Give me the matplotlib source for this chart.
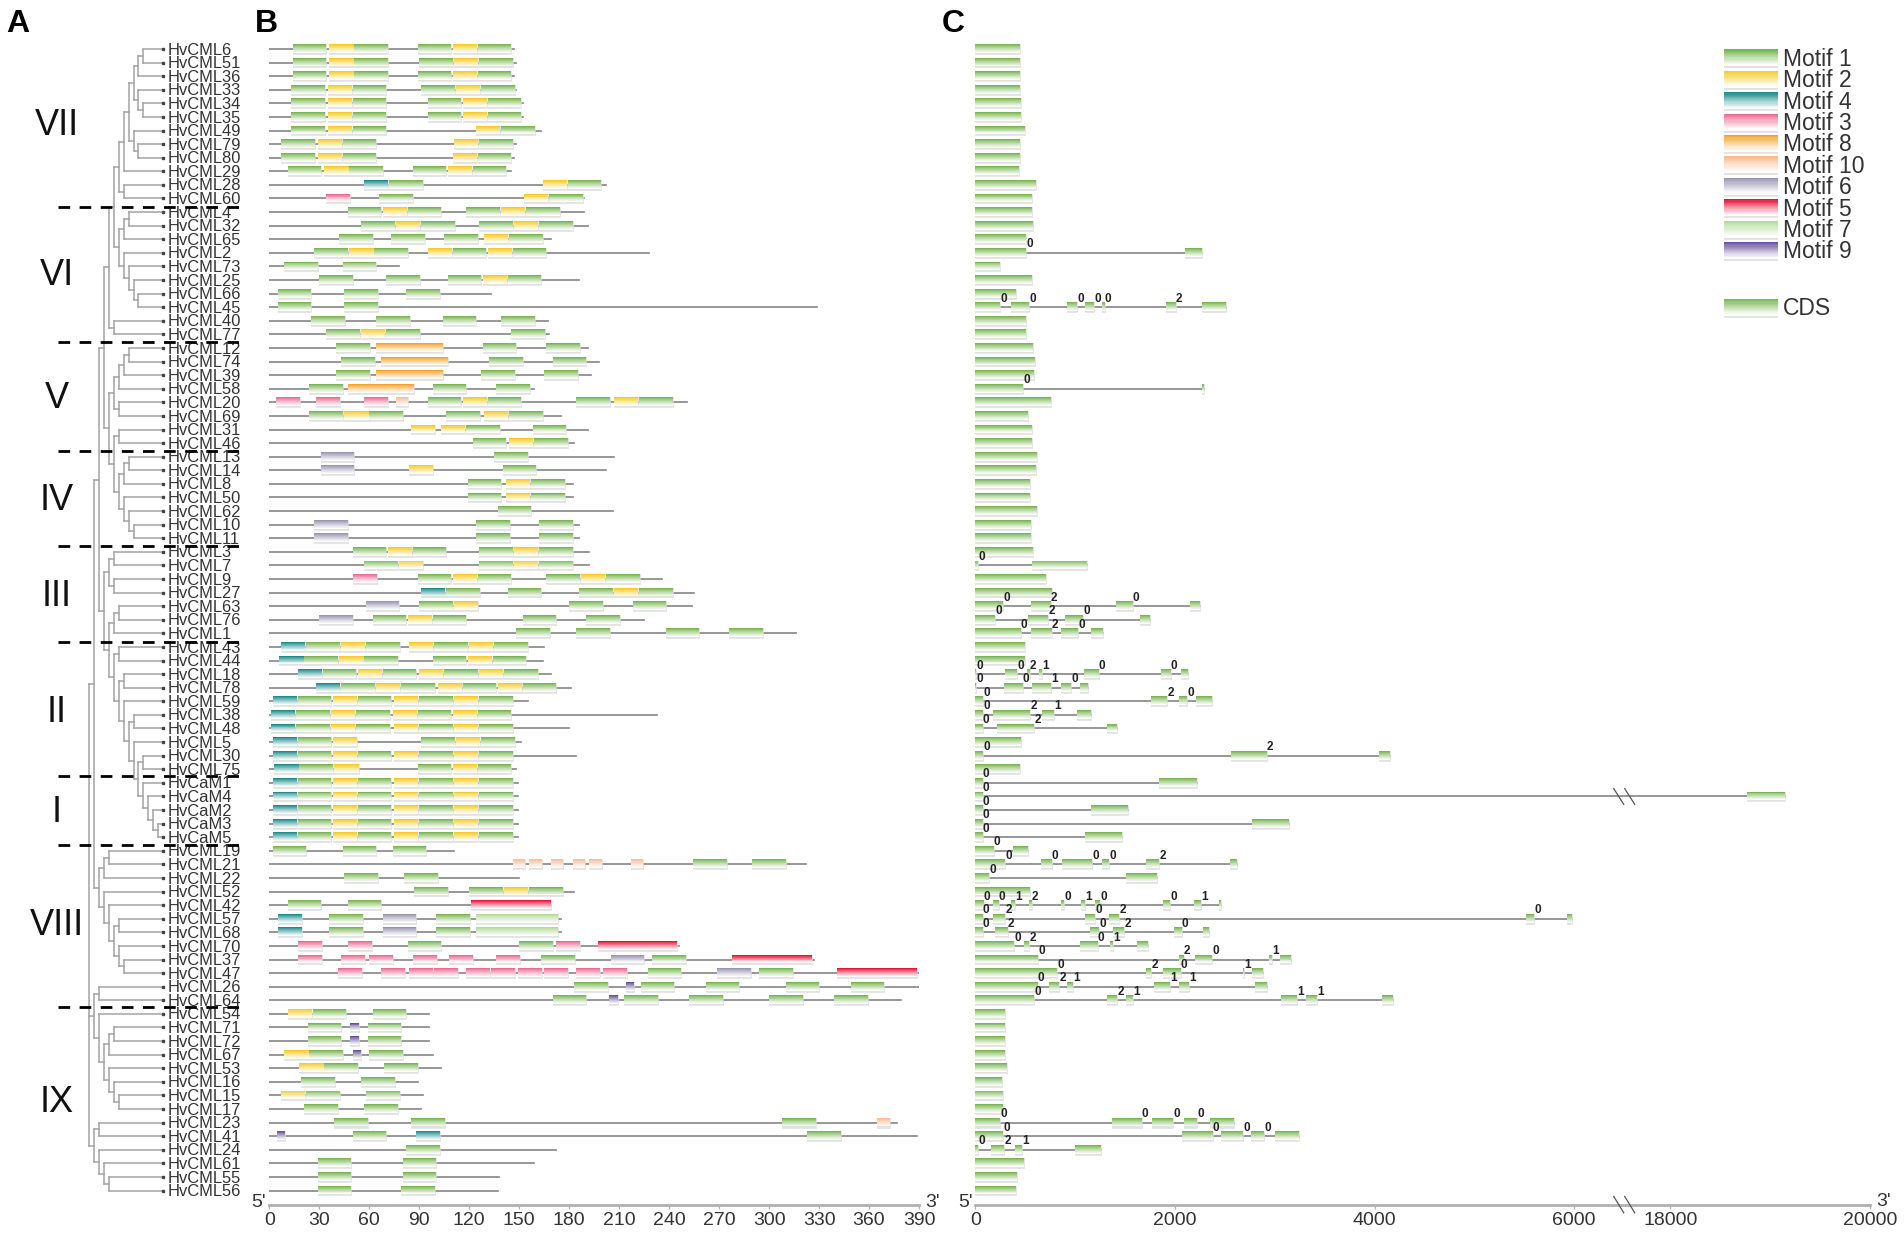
"""
Gene structure figure: phylogenetic tree, conserved motifs and exon layout
"""
import numpy as np
import matplotlib
matplotlib.use('Agg')  # Use non-interactive backend
import matplotlib.pyplot as plt
from matplotlib.colors import to_rgb

plt.rcParams['font.family'] = ['Liberation Sans', 'DejaVu Sans']

# Gene order, top to bottom
gene_names = [
    'HvCML6', 'HvCML51', 'HvCML36', 'HvCML33', 'HvCML34', 'HvCML35', 'HvCML49', 'HvCML79', 'HvCML80',
    'HvCML29', 'HvCML28', 'HvCML60',
    'HvCML4', 'HvCML32', 'HvCML65', 'HvCML2', 'HvCML73', 'HvCML25', 'HvCML66', 'HvCML45', 'HvCML40', 'HvCML77',
    'HvCML12', 'HvCML74', 'HvCML39', 'HvCML58', 'HvCML20', 'HvCML69', 'HvCML31', 'HvCML46',
    'HvCML13', 'HvCML14', 'HvCML8', 'HvCML50', 'HvCML62', 'HvCML10', 'HvCML11',
    'HvCML3', 'HvCML7', 'HvCML9', 'HvCML27', 'HvCML63', 'HvCML76', 'HvCML1',
    'HvCML43', 'HvCML44', 'HvCML18', 'HvCML78', 'HvCML59', 'HvCML38', 'HvCML48', 'HvCML5', 'HvCML30', 'HvCML75',
    'HvCaM1', 'HvCaM4', 'HvCaM2', 'HvCaM3', 'HvCaM5',
    'HvCML19', 'HvCML21', 'HvCML22', 'HvCML52', 'HvCML42', 'HvCML57', 'HvCML68', 'HvCML70', 'HvCML37', 'HvCML47',
    'HvCML26', 'HvCML64',
    'HvCML54', 'HvCML71', 'HvCML72', 'HvCML67', 'HvCML53', 'HvCML16', 'HvCML15', 'HvCML17', 'HvCML23', 'HvCML41',
    'HvCML24', 'HvCML61', 'HvCML55', 'HvCML56',
]

protein_lengths = [
    147, 148, 147, 148, 152, 152, 163, 148, 147, 145, 202, 189,
    189, 191, 169, 228, 78, 186, 133, 329, 167, 168,
    191, 198, 193, 159, 251, 175, 191, 183,
    207, 202, 182, 182, 206, 186, 186,
    192, 192, 236, 255, 254, 225, 316,
    165, 164, 169, 181, 155, 233, 180, 151, 184, 148,
    149, 149, 149, 149, 149,
    111, 322, 150, 183, 169, 175, 175, 246, 327, 390, 390, 379,
    96, 96, 96, 98, 103, 89, 92, 91, 377, 389, 172, 159, 138, 137,
]

# Tree as nested (node x, child, child, ...), leaves are gene names
clade_vii = (119,
             (124,
              (129,
               (134, (138.3, (143.3, 'HvCML6', 'HvCML51'), 'HvCML36'),
                (138.3, 'HvCML33', (143.3, 'HvCML34', 'HvCML35'))),
               (134, 'HvCML49', (138.3, 'HvCML79', 'HvCML80'))),
              'HvCML29'),
             (124, 'HvCML28', 'HvCML60'))
clade_vi = (119,
            (124, (129, 'HvCML4', 'HvCML32'), 'HvCML65'),
            (124, 'HvCML2',
             (129, 'HvCML73', (134, 'HvCML25', (138.3, 'HvCML66', 'HvCML45')))))
clade_v = (114,
           (119, (124, (129, 'HvCML12', 'HvCML74'), 'HvCML39'), 'HvCML58'),
           (119, 'HvCML20', 'HvCML69'))
clade_iv = (114,
            (119, 'HvCML31', 'HvCML46'),
            (119,
             (124, (129, 'HvCML13', 'HvCML14'), 'HvCML8'),
             (124, 'HvCML50', (129, 'HvCML62', (134, 'HvCML10', 'HvCML11')))))
clade_cam = (143.3, 'HvCaM1',
             (148.3, 'HvCaM4', (153.3, 'HvCaM2', (157.7, 'HvCaM3', 'HvCaM5'))))
clade_ii = (114,
            (119, 'HvCML43', 'HvCML44'),
            (119, (124, 'HvCML18', 'HvCML78'),
             (124, 'HvCML59',
              (129, (134, 'HvCML38', 'HvCML48'),
               (134, 'HvCML5', (138.3, (143.3, 'HvCML30', 'HvCML75'), clade_cam))))))
clade_iii = (104,
             (109, (114, 'HvCML3', 'HvCML7'), (114, 'HvCML9', 'HvCML27')),
             (109, (114, (119, 'HvCML63', 'HvCML76'), 'HvCML1'), clade_ii))
clade_viii = (99,
              (104, (109, 'HvCML19', 'HvCML21'), 'HvCML22'),
              (104, 'HvCML52',
               (109, 'HvCML42',
                (114, (119, 'HvCML57', 'HvCML68'),
                 (119, 'HvCML70', (124, 'HvCML37', 'HvCML47'))))))
clade_ix = (94,
            (99, 'HvCML26', 'HvCML64'),
            (99, 'HvCML54',
             (104, (109, (114, 'HvCML71', 'HvCML72'), 'HvCML67'),
              (109, 'HvCML53', (114, 'HvCML16', (119, 'HvCML15', 'HvCML17'))))))
clade_rest = (94,
              (99, 'HvCML23', 'HvCML41'),
              (99, 'HvCML24', (104, 'HvCML61', (109, 'HvCML55', 'HvCML56'))))
tree = (89,
        (94,
         (99,
          (104,
           (109, (114, clade_vii, clade_vi), (114, 'HvCML40', 'HvCML77')),
           (109, clade_v, clade_iv)),
          clade_iii),
         clade_viii),
        clade_ix,
        clade_rest)

# Motif hits per gene as (motif number, start in aa)
cam_hits = [(4, 2), (1, 17), (2, 38), (1, 53), (2, 75), (1, 90), (2, 111), (1, 126)]
motif_hits = [
    [(1, 14), (2, 36), (1, 51), (1, 89), (2, 110), (1, 125)],
    [(1, 14), (2, 36), (1, 51), (1, 90), (2, 111), (1, 126)],
    [(1, 14), (2, 36), (1, 51), (1, 89), (2, 110), (1, 125)],
    [(1, 13), (2, 35), (1, 50), (1, 91), (2, 112), (1, 127)],
    [(1, 13), (2, 35), (1, 50), (1, 95), (2, 116), (1, 131)],
    [(1, 13), (2, 35), (1, 50), (1, 95), (2, 116), (1, 131)],
    [(1, 13), (2, 35), (1, 50), (2, 124), (1, 139)],
    [(1, 7), (2, 29), (1, 44), (2, 111), (1, 126)],
    [(1, 7), (2, 29), (1, 44), (2, 110), (1, 125)],
    [(1, 11), (2, 33), (1, 48), (1, 86), (2, 107), (1, 122)],
    [(4, 57), (1, 72), (2, 164), (1, 179)],
    [(3, 34), (1, 66), (2, 153), (1, 168)],
    [(1, 47), (2, 68), (1, 83), (1, 118), (2, 139), (1, 154)],
    [(1, 55), (2, 76), (1, 91), (1, 126), (2, 147), (1, 162)],
    [(1, 42), (1, 73), (1, 105), (2, 129), (1, 144)],
    [(1, 27), (2, 48), (1, 63), (2, 95), (1, 110), (2, 131), (1, 146)],
    [(1, 9), (1, 44)],
    [(1, 30), (1, 70), (1, 107), (2, 128), (1, 143)],
    [(1, 5), (1, 45), (1, 82)],
    [(1, 5), (1, 45)],
    [(1, 25), (1, 64), (1, 104), (1, 139)],
    [(1, 34), (2, 55), (1, 70), (1, 145)],
    [(1, 40), (8, 64), (1, 128), (1, 166)],
    [(1, 43), (8, 67), (1, 132), (1, 170)],
    [(1, 40), (8, 64), (1, 127), (1, 165)],
    [(1, 24), (8, 47), (1, 98), (1, 136)],
    [(3, 4), (3, 28), (3, 57), (10, 76), (1, 95), (2, 116), (1, 131), (1, 184), (2, 207), (1, 222)],
    [(1, 24), (2, 45), (1, 60), (1, 106), (2, 129), (1, 144)],
    [(2, 85), (2, 103), (1, 118), (1, 158)],
    [(1, 122), (2, 144), (1, 159)],
    [(6, 31), (1, 135)],
    [(6, 31), (2, 84), (1, 140)],
    [(1, 119), (2, 142), (1, 157)],
    [(1, 119), (2, 142), (1, 157)],
    [(1, 137)],
    [(6, 27), (1, 124), (1, 162)],
    [(6, 27), (1, 124), (1, 162)],
    [(1, 50), (2, 71), (1, 86), (1, 126), (2, 147), (1, 162)],
    [(1, 57), (2, 78), (1, 126), (2, 147), (1, 162)],
    [(3, 50), (1, 89), (2, 110), (1, 125), (1, 166), (2, 187), (1, 202)],
    [(4, 91), (1, 106), (1, 143), (1, 186), (2, 207), (1, 222)],
    [(6, 58), (1, 90), (2, 111), (1, 180), (1, 218)],
    [(6, 30), (1, 62), (2, 83), (1, 98), (1, 152), (1, 190)],
    [(1, 148), (1, 184), (1, 238), (1, 276)],
    [(4, 7), (1, 22), (2, 43), (1, 58), (2, 84), (1, 99), (2, 120), (1, 135)],
    [(4, 6), (1, 21), (2, 42), (1, 57), (1, 98), (2, 119), (1, 134)],
    [(4, 17), (1, 32), (2, 53), (1, 68), (2, 90), (1, 105), (2, 126), (1, 141)],
    [(4, 28), (1, 43), (2, 64), (1, 79), (2, 101), (1, 116), (2, 137), (1, 152)],
    [(4, 2), (1, 17), (2, 38), (1, 53), (2, 75), (1, 90), (2, 111), (1, 126)],
    [(4, 1), (1, 16), (2, 37), (1, 52), (2, 74), (1, 89), (2, 110), (1, 125)],
    [(4, 1), (1, 16), (2, 37), (1, 52), (2, 75), (1, 90), (2, 111), (1, 126)],
    [(4, 2), (1, 17), (2, 38), (1, 91), (2, 112), (1, 127)],
    [(4, 2), (1, 17), (2, 38), (1, 53), (2, 75), (1, 90), (2, 111), (1, 126)],
    [(4, 3), (1, 18), (2, 39), (1, 89), (2, 110), (1, 125)],
    cam_hits, cam_hits, cam_hits, cam_hits, cam_hits,
    [(1, 2), (1, 44), (1, 74)],
    [(10, 146), (10, 156), (10, 169), (10, 182), (10, 192), (10, 217), (1, 254.5), (1, 290)],
    [(1, 45), (1, 81)],
    [(1, 87), (1, 120), (2, 141), (1, 156)],
    [(1, 11), (1, 47), (5, 121)],
    [(4, 5), (1, 36), (6, 68), (1, 100), (7, 124)],
    [(4, 5), (1, 36), (6, 68), (1, 100), (7, 124)],
    [(3, 17), (3, 47), (1, 83), (1, 150), (3, 172), (5, 197)],
    [(3, 17), (3, 43), (3, 60), (3, 86), (3, 108), (3, 136), (1, 163), (6, 205), (1, 230), (5, 278)],
    [(3, 41), (3, 67), (3, 84), (3, 99), (3, 118), (3, 133), (3, 149), (3, 165), (3, 184), (3, 200),
     (1, 227), (6, 269), (1, 294), (5, 341)],
    [(1, 183), (9, 214), (1, 223), (1, 262), (1, 310), (1, 349)],
    [(1, 170), (9, 204), (1, 213), (1, 252), (1, 300), (1, 339)],
    [(2, 11), (1, 26), (1, 62)],
    [(1, 23), (9, 48.5), (1, 59)],
    [(1, 23), (9, 48.5), (1, 59)],
    [(2, 9), (1, 24), (9, 50), (1, 60)],
    [(2, 18), (1, 33), (1, 69)],
    [(1, 19), (1, 55)],
    [(2, 7), (1, 22), (1, 58)],
    [(1, 21), (1, 57)],
    [(1, 39), (1, 85), (1, 308), (10, 365)],
    [(9, 4.5), (1, 50), (4, 88), (1, 323)],
    [(1, 82)],
    [(1, 29), (1, 80)],
    [(1, 29), (1, 80)],
    [(1, 29), (1, 79)],
]

motif_widths = {1: 20.2, 2: 14.5, 3: 14.5, 4: 14.5, 5: 48, 6: 20, 7: 49.5, 8: 40, 9: 5, 10: 7.4}
motif_colors = {1: '#79b653', 2: '#f5cb24', 3: '#ec6a93', 4: '#1c8c8c', 5: '#e5143a', 6: '#9a96b2',
                7: '#b3db97', 8: '#f4a42c', 9: '#67529c', 10: '#f8bd93'}
legend_order = [1, 2, 4, 3, 8, 10, 6, 5, 7, 9]

# Exons per gene as (start, end) in bp, and the intron phase after each exon
exon_spans = [
    [(0, 445)], [(0, 445)], [(0, 445)], [(0, 445)], [(0, 457)], [(0, 457)], [(0, 494)], [(0, 445)], [(0, 445)],
    [(0, 438)], [(0, 611)], [(0, 568)],
    [(0, 568)], [(0, 574)], [(0, 507)], [(0, 507), (2096, 2275)], [(0, 241)], [(0, 562)], [(0, 408)],
    [(0, 248), (353, 537), (920, 1018), (1097, 1190), (1270, 1294), (1910, 2008), (2267, 2507)],
    [(0, 507)], [(0, 507)],
    [(0, 574)], [(0, 598)], [(0, 586)], [(0, 476), (2270, 2286)], [(0, 759)], [(0, 530)], [(0, 568)], [(0, 568)],
    [(0, 617)], [(0, 605)], [(0, 545)], [(0, 545)], [(0, 617)], [(0, 561)], [(0, 561)],
    [(0, 573)], [(0, 28), (563, 1114)], [(0, 710)], [(0, 767)],
    [(0, 279), (553, 753), (1404, 1575), (2149, 2253)],
    [(0, 199), (530, 730), (900, 1077), (1645, 1749)],
    [(0, 453), (560, 763), (853, 1027), (1154, 1274)],
    [(0, 500)], [(0, 496)],
    [(0, 5), (299, 419), (513, 543), (633, 663), (1084, 1234), (1857, 1957), (2063, 2130)],
    [(0, 5), (289, 473), (570, 753), (853, 957), (1050, 1127)],
    [(0, 75), (1762, 1919), (2039, 2123), (2213, 2367)],
    [(0, 75), (179, 550), (666, 783), (1013, 1157)],
    [(0, 72), (212, 586), (1314, 1414)],
    [(0, 453)],
    [(0, 75), (2557, 2919), (4040, 4155)],
    [(0, 446)],
    [(0, 73), (1838, 2217)],
    [(0, 73), (18763, 19145)],
    [(0, 73), (1160, 1527)],
    [(0, 73), (2775, 3143)],
    [(0, 73), (1102, 1470)],
    [(0, 183), (372, 530)],
    [(0, 299), (659, 762), (872, 1171), (1268, 1341), (1713, 1841), (2555, 2622)],
    [(0, 140), (1506, 1823)],
    [(0, 549)],
    [(0, 82), (172, 232), (352, 392), (533, 563), (860, 887), (1054, 1097), (1197, 1251), (1875, 1949),
     (2190, 2263), (2444, 2465)],
    [(0, 72), (172, 296), (1097, 1197), (1338, 1441), (5517, 5597), (5927, 5982)],
    [(0, 72), (195, 322), (1144, 1238), (1381, 1488), (1992, 2066), (2283, 2340)],
    [(0, 390), (489, 536), (1050, 1224), (1352, 1376), (1622, 1729)],
    [(0, 630), (2042, 2086), (2196, 2373), (2945, 2970), (3055, 3158)],
    [(0, 817), (1712, 1762), (1876, 2056), (2680, 2690), (2774, 2884)],
    [(0, 623), (740, 837), (917, 981), (1785, 1949), (2042, 2139), (2805, 2927)],
    [(0, 586), (1321, 1421), (1511, 1581), (3067, 3226), (3317, 3421), (4073, 4189)],
    [(0, 293)], [(0, 293)], [(0, 293)], [(0, 299)], [(0, 317)], [(0, 268)], [(0, 280)], [(0, 274)],
    [(0, 250), (1372, 1665), (1768, 1982), (2091, 2220), (2348, 2592)],
    [(0, 280), (2073, 2378), (2463, 2683), (2762, 2896), (3006, 3244)],
    [(0, 30), (152, 287), (396, 470), (994, 1262)],
    [(0, 482)], [(0, 415)], [(0, 409)],
]

exon_phases = [
    [], [], [], [], [], [], [], [], [], [], [], [],
    [], [], [], [0], [], [], [], [0, 0, 0, 0, 0, 2], [], [],
    [], [], [], [0], [], [], [], [],
    [], [], [], [], [], [], [],
    [], [0], [], [], [0, 2, 0], [0, 2, 0], [0, 2, 0],
    [], [], [0, 0, 2, 1, 0, 0], [0, 0, 1, 0], [0, 2, 0], [0, 2, 1], [0, 2], [], [0, 2], [],
    [0], [0], [0], [0], [0],
    [0], [0, 0, 0, 0, 2], [0], [], [0, 0, 1, 2, 0, 1, 0, 0, 1], [0, 2, 0, 2, 0], [0, 2, 0, 2, 0],
    [0, 2, 0, 1], [0, 2, 0, 1], [0, 2, 0, 1], [0, 2, 1, 1, 1], [0, 2, 1, 1, 1],
    [], [], [], [], [], [], [], [], [0, 0, 0, 0], [0, 0, 0, 0], [0, 2, 1], [], [], [],
]

clade_labels = ['VII', 'VI', 'V', 'IV', 'III', 'II', 'I', 'VIII', 'IX']
clade_label_rows = [5.6, 16.7, 25.7, 33.2, 40.3, 48.8, 56.2, 64.5, 77.5]
clade_dividers = [11.6, 21.54, 29.56, 36.55, 43.6, 53.5, 58.55, 70.5]

aa_ticks = list(range(0, 391, 30))
bp_ticks = [0, 2000, 4000, 6000, 18000, 20000]

# Picture layout, in pixels
WIDTH, HEIGHT = 1904, 1233
ROW_TOP, ROW_PITCH = 49.0, 13.59
AXIS_ROW = 85.03
BOX_HEIGHT = 0.72
LEAF_X = 163.3
LINE_GREY = '#858585'
AXIS_GREY = '#b0b0b0'
TEXT_DARK = '#333333'
CUT_START, CUT_SHIFT = 6500, 11033


def px_axes(fig, x0, x1, y0=0, y1=HEIGHT):
    """Axes covering a pixel box of the figure"""
    ax = fig.add_axes([x0 / WIDTH, 1 - y1 / HEIGHT, (x1 - x0) / WIDTH, (y1 - y0) / HEIGHT])
    ax.patch.set_alpha(0)
    return ax


def set_rows(ax):
    ax.set_ylim((HEIGHT - ROW_TOP) / ROW_PITCH, -ROW_TOP / ROW_PITCH)


def draw_boxes(ax, rows, lefts, widths, color, height=BOX_HEIGHT, strips=10):
    """Boxes that fade from the colour at the top to white, with a grey rim below"""
    rows = np.asarray(rows, dtype=float)
    base = np.array(to_rgb(color))
    step = height / strips
    for i in range(strips):
        fade = min(1.0, i / ((strips - 1) * 0.9))
        shade = base + (1 - base) * fade ** 0.9
        if i == strips - 1:
            shade = '#e2e2e2'
        top = rows - height / 2 + i * step
        ax.barh(top + step / 2, widths, left=lefts, height=step * 1.05, color=shade,
                linewidth=0, antialiased=False, zorder=3)
    ax.barh(rows, widths, left=lefts, height=height, fill=False, edgecolor='#dcdcdc',
            linewidth=0.5, zorder=2.5)


def draw_node(ax, node, gene_row):
    if isinstance(node, str):
        return LEAF_X, gene_row[node]
    x, *children = node
    points = [draw_node(ax, child, gene_row) for child in children]
    ys = [p[1] for p in points]
    ax.plot([x, x], [min(ys), max(ys)], color='#a3a3a3', lw=1.1, solid_capstyle='projecting', zorder=1)
    for cx, cy in points:
        ax.plot([x, cx], [cy, cy], color='#a3a3a3', lw=1.1, zorder=1)
    return x, (ys[0] + ys[-1]) / 2


def style_axis(ax, ticks):
    for side in ('left', 'right', 'top'):
        ax.spines[side].set_visible(False)
    ax.yaxis.set_visible(False)
    ax.spines['bottom'].set_position(('data', AXIS_ROW))
    ax.spines['bottom'].set_color(AXIS_GREY)
    ax.spines['bottom'].set_linewidth(2.0)
    ax.set_xticks(ticks)
    ax.set_xticklabels([str(t) for t in ticks])
    ax.tick_params(axis='x', length=3, width=0.9, color=AXIS_GREY, labelsize=14, labelcolor=TEXT_DARK, pad=2.5)


def bp_forward(bp):
    bp = np.asarray(bp, dtype=float)
    return np.where(bp < CUT_START, bp, np.where(bp < CUT_START + CUT_SHIFT, CUT_START, bp - CUT_SHIFT))


def bp_inverse(pos):
    pos = np.asarray(pos, dtype=float)
    return np.where(pos < CUT_START, pos, pos + CUT_SHIFT)


def draw_break(ax, row, half_height):
    for centre in (6448, 6558 + CUT_SHIFT):
        ax.plot([centre - 50, centre + 50], [row - half_height, row + half_height],
                color='#555555', lw=0.9, zorder=4)


fig = plt.figure(figsize=(WIDTH / 100, HEIGHT / 100), dpi=100)
gene_row = {name: i for i, name in enumerate(gene_names)}

# Panel A: tree, names, clade labels
ax_tree = px_axes(fig, 0, 269)
ax_tree.set_xlim(0, 269)
set_rows(ax_tree)
ax_tree.axis('off')
draw_node(ax_tree, tree, gene_row)
ax_tree.plot([LEAF_X] * len(gene_names), range(len(gene_names)), ls='none', marker='s', ms=2, color='#444444')
for name, row in gene_row.items():
    ax_tree.text(168, row + 0.08, name, fontsize=11.9, color=TEXT_DARK, va='center', ha='left')
for label, row in zip(clade_labels, clade_label_rows):
    ax_tree.text(56.5, row, label, fontsize=26, color='#111111', va='center', ha='center')
for row in clade_dividers:
    ax_tree.plot([58, 245], [row, row], color='black', lw=2.0, dashes=(4.2, 3.4), zorder=5)

# Panel B: motifs
ax_motif = px_axes(fig, 269.4, 919)
ax_motif.set_xlim(0, 390)
set_rows(ax_motif)
style_axis(ax_motif, aa_ticks)
for row, length in enumerate(protein_lengths):
    ax_motif.plot([0, length], [row, row], color=LINE_GREY, lw=1.2, zorder=1)
for motif, color in motif_colors.items():
    hits = [(row, start) for row, gene_hits in enumerate(motif_hits) for m, start in gene_hits if m == motif]
    draw_boxes(ax_motif, [h[0] for h in hits], [h[1] for h in hits], motif_widths[motif], color)
ax_motif.text(-2, 84.9, "5'", fontsize=14, color=TEXT_DARK, ha='right', va='center')
ax_motif.text(394, 84.9, "3'", fontsize=14, color=TEXT_DARK, ha='left', va='center')

# Panel C: exons, with the long intron gap cut out of the scale
ax_exon = px_axes(fig, 975.5, 1870)
ax_exon.set_xscale('function', functions=(bp_forward, bp_inverse))
ax_exon.set_xlim(0, 20000)
set_rows(ax_exon)
style_axis(ax_exon, bp_ticks)
exon_rows, exon_lefts, exon_widths = [], [], []
for row, (spans, phases) in enumerate(zip(exon_spans, exon_phases)):
    if len(spans) > 1:
        ax_exon.plot([spans[0][0], spans[-1][1]], [row, row], color=LINE_GREY, lw=1.2, zorder=1)
    for (start, end), phase in zip(spans, phases):
        ax_exon.text(end + 35, row - 0.62, str(phase), fontsize=8.5, weight='bold', color='#222222',
                     ha='center', va='center', zorder=6)
    for start, end in spans:
        exon_rows.append(row)
        exon_lefts.append(start)
        exon_widths.append(end - start)
draw_boxes(ax_exon, exon_rows, exon_lefts, exon_widths, motif_colors[1])
draw_break(ax_exon, gene_row['HvCaM4'], 0.58)
draw_break(ax_exon, AXIS_ROW, 0.6)
ax_exon.text(-25, 84.9, "5'", fontsize=14, color=TEXT_DARK, ha='right', va='center')
ax_exon.text(20060, 84.8, "3'", fontsize=14, color=TEXT_DARK, ha='left', va='center')

# Legend
ax_legend = px_axes(fig, 1723.6, 1777.7, 47.5, 331.5)
ax_legend.set_xlim(0, 1)
ax_legend.set_ylim((330 - 57) / 21.4, (46 - 57) / 21.4)
ax_legend.axis('off')
for i, motif in enumerate(legend_order):
    draw_boxes(ax_legend, [i], [0], [1], motif_colors[motif], height=0.84, strips=16)
    ax_legend.text(1.1, i + 0.04, f'Motif {motif}', fontsize=16.5, color=TEXT_DARK, va='center', ha='left')
draw_boxes(ax_legend, [11.66], [0], [1], motif_colors[1], height=0.84, strips=16)
ax_legend.text(1.1, 11.7, 'CDS', fontsize=16.5, color=TEXT_DARK, va='center', ha='left')

# Panel letters
for letter, x in (('A', 6), ('B', 255), ('C', 942)):
    fig.text(x / WIDTH, 1 - 32 / HEIGHT, letter, fontsize=23, weight='bold', color='black', va='baseline')

fig.savefig('out.png', dpi=100)
plt.close(fig)
